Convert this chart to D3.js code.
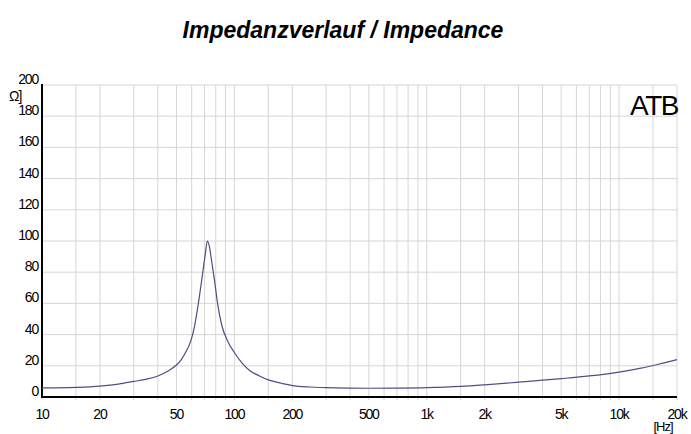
<!DOCTYPE html>
<html>
<head>
<meta charset="utf-8">
<script src="https://cdn.jsdelivr.net/npm/d3@7"></script>
<style>
body { margin: 0; background: #fff; }
svg text { font-family: "Liberation Sans Narrow", "Liberation Sans", Arial, sans-serif; }
</style>
</head>
<body>
<svg></svg>
<script>
var WIDTH = 691;
var HEIGHT = 434;

// impedance curve
var freqs = [10, 15, 20, 25, 30, 35, 40, 45, 50, 53, 56, 59, 62, 65, 68, 70.5, 72.4, 74, 76, 79, 82, 86, 93, 100, 110, 120, 135, 150, 175, 200, 250, 300, 400, 500, 700, 1000, 1500, 2000, 3000, 4000, 5000, 7000, 10000, 13000, 16000, 20000];
var ohms  = [5.8, 6.2, 7, 8.3, 10, 11.5, 13.5, 16.5, 20.5, 24, 29, 35, 45, 60, 77, 91, 100, 97, 88, 74, 59, 46, 35, 28.5, 21.5, 17, 13.5, 11, 8.8, 7.3, 6.4, 6, 5.7, 5.6, 5.7, 6, 6.8, 7.8, 9.5, 10.8, 11.8, 13.5, 16, 18.5, 21, 24];

var yTicks = [0, 20, 40, 60, 80, 100, 120, 140, 160, 180, 200];
var xLabels = [10, 20, 50, 100, 200, 500, 1000, 2000, 5000, 10000, 20000];
var xLabelText = ['10', '20', '50', '100', '200', '500', '1k', '2k', '5k', '10k', '20k'];
var gridMult = [1, 1.5, 2, 3, 4, 5, 6, 7, 8, 9];
var decades = [10, 100, 1000, 10000];

var svg = d3.select('svg').attr('width', WIDTH).attr('height', HEIGHT);

var xScale = d3.scaleLog().domain([10, 20000]).range([42, 677]);
var yScale = d3.scaleLinear().domain([0, 200]).range([397, 85]);

var gridX = [];
decades.forEach(function (d) {
  gridMult.forEach(function (m) {
    var f = d * m;
    if (f <= 20000) gridX.push(f);
  });
});

// grid
svg.append('g').selectAll('line.v').data(gridX).enter().append('line')
  .attr('x1', function (d) { return xScale(d); })
  .attr('x2', function (d) { return xScale(d); })
  .attr('y1', yScale(200)).attr('y2', yScale(0) + 3)
  .attr('stroke', '#d6d6d6').attr('stroke-width', 1);

svg.append('g').selectAll('line.h').data(yTicks).enter().append('line')
  .attr('x1', xScale(10)).attr('x2', xScale(20000))
  .attr('y1', function (d) { return yScale(d); })
  .attr('y2', function (d) { return yScale(d); })
  .attr('stroke', '#d6d6d6').attr('stroke-width', 1);

// axes lines
svg.append('line').attr('x1', 42).attr('x2', 42)
  .attr('y1', yScale(200) - 1).attr('y2', yScale(0) + 1)
  .attr('stroke', '#000').attr('stroke-width', 2);
svg.append('line').attr('x1', 41).attr('x2', xScale(20000))
  .attr('y1', yScale(0)).attr('y2', yScale(0))
  .attr('stroke', '#000').attr('stroke-width', 2);

// y labels
svg.append('g').selectAll('text').data(yTicks).enter().append('text')
  .attr('x', 38)
  .attr('y', function (d) { return yScale(d) - 1; })
  .attr('text-anchor', 'end')
  .attr('font-size', 14)
  .attr('letter-spacing', '-1.2')
  .text(function (d) { return d; });

svg.append('text').attr('x', 9).attr('y', 101)
  .attr('font-size', 14).attr('letter-spacing', '-1').text('Ω]');

// x labels
svg.append('g').selectAll('text').data(xLabels).enter().append('text')
  .attr('x', function (d) { return xScale(d); })
  .attr('y', 419)
  .attr('text-anchor', 'middle')
  .attr('font-size', 14)
  .attr('letter-spacing', '-1.2')
  .text(function (d, i) { return xLabelText[i]; });

svg.append('text').attr('x', 663).attr('y', 431)
  .attr('text-anchor', 'middle')
  .attr('font-size', 13).attr('letter-spacing', '-1').text('[Hz]');

// curve
var line = d3.line()
  .x(function (d, i) { return xScale(freqs[i]); })
  .y(function (d) { return yScale(d); })
  .curve(d3.curveMonotoneX);

svg.append('path').datum(ohms)
  .attr('d', line)
  .attr('fill', 'none')
  .attr('stroke', '#4f4f82')
  .attr('stroke-width', 1.2);

// ATB mark
svg.append('text').attr('x', 678).attr('y', 115)
  .attr('text-anchor', 'end')
  .attr('font-size', 28)
  .attr('letter-spacing', '-1.5')
  .style('font-family', '"Liberation Sans", Arial, sans-serif')
  .text('ATB');

// title
svg.append('text').attr('x', 343).attr('y', 38)
  .attr('text-anchor', 'middle')
  .attr('font-size', 23)
  .attr('font-weight', 'bold')
  .attr('font-style', 'italic')
  .style('font-family', '"Liberation Sans", Arial, sans-serif')
  .text('Impedanzverlauf / Impedance');
</script>
</body>
</html>
